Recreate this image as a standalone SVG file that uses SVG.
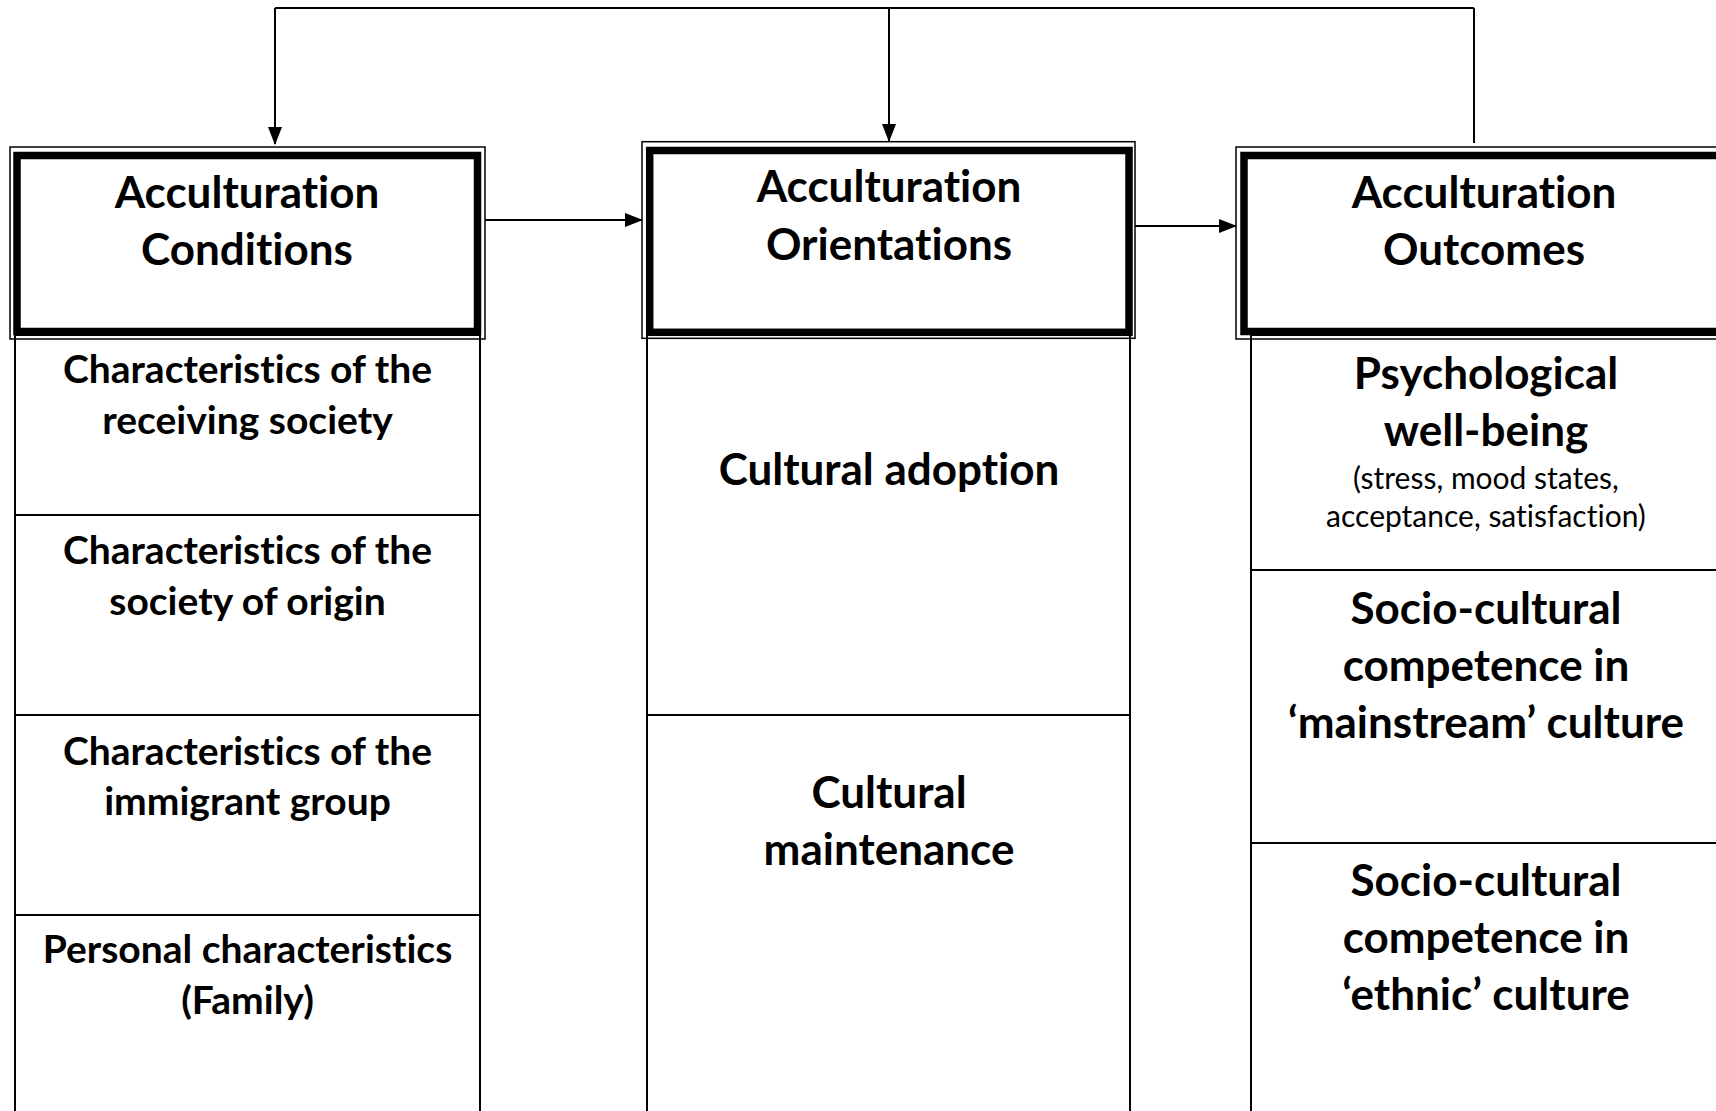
<svg xmlns="http://www.w3.org/2000/svg" width="1716" height="1111" viewBox="0 0 1716 1111">
  <style>
    .frame { fill: none; stroke: #000; stroke-width: 1.5; }
    .thick { fill: #fff; stroke: #000; stroke-width: 7.5; }
    .col { fill: #fff; stroke: #000; stroke-width: 2; }
    .div { stroke: #000; stroke-width: 2; }
    .link { fill: none; stroke: #000; stroke-width: 2; }
    text { font-family: Lato, "Liberation Sans", sans-serif; text-anchor: middle; fill: #000; font-variant-ligatures: none; font-feature-settings: "liga" 0, "clig" 0; }
    .h { font-weight: 700; font-size: 44px; }
    .m { font-weight: 700; font-size: 39px; }
    .s { font-weight: 400; font-size: 30px; }
  </style>
  <defs>
    <marker id="arrow" markerUnits="userSpaceOnUse" markerWidth="18" markerHeight="14" refX="17" refY="7" orient="auto">
      <path d="M0,0 L18,7 L0,14 Z" fill="#000"/>
    </marker>
  </defs>
  <rect width="1716" height="1111" fill="#fff"/>

  <!-- Acculturation Conditions -->
  <g id="conditions">
    <rect class="col" x="15" y="335" width="465" height="800"/>
    <line class="div" x1="15" y1="515" x2="480" y2="515"/>
    <line class="div" x1="15" y1="715" x2="480" y2="715"/>
    <line class="div" x1="15" y1="915" x2="480" y2="915"/>
    <rect class="frame" x="10" y="147" width="475" height="192"/>
    <rect class="thick" x="17" y="155.5" width="460.5" height="176"/>
    <text class="h" x="247" y="208">Acculturation</text>
    <text class="h" x="247" y="265">Conditions</text>
    <text class="m" x="247.5" y="383">Characteristics of the</text>
    <text class="m" x="247.5" y="434">receiving society</text>
    <text class="m" x="247.5" y="564">Characteristics of the</text>
    <text class="m" x="247.5" y="615">society of origin</text>
    <text class="m" x="247.5" y="765">Characteristics of the</text>
    <text class="m" x="247.5" y="815">immigrant group</text>
    <text class="m" x="247.5" y="963">Personal characteristics</text>
    <text class="m" x="247.5" y="1014">(Family)</text>
  </g>

  <!-- Acculturation Orientations -->
  <g id="orientations">
    <rect class="col" x="647" y="335" width="483" height="800"/>
    <line class="div" x1="647" y1="715" x2="1130" y2="715"/>
    <rect class="frame" x="642" y="141.7" width="493" height="196.6"/>
    <rect class="thick" x="649.7" y="150.5" width="479.3" height="181.8"/>
    <text class="h" x="889" y="202">Acculturation</text>
    <text class="h" x="889" y="260">Orientations</text>
    <text class="h" x="889" y="485">Cultural adoption</text>
    <text class="h" x="889" y="808">Cultural</text>
    <text class="h" x="889" y="865">maintenance</text>
  </g>

  <!-- Acculturation Outcomes -->
  <g id="outcomes">
    <rect class="col" x="1251" y="335" width="600" height="800"/>
    <line class="div" x1="1251" y1="570" x2="1716" y2="570"/>
    <line class="div" x1="1251" y1="843" x2="1716" y2="843"/>
    <rect class="frame" x="1236" y="147" width="600" height="192"/>
    <rect class="thick" x="1244" y="155.5" width="600" height="176"/>
    <text class="h" x="1484" y="208">Acculturation</text>
    <text class="h" x="1484" y="265">Outcomes</text>
    <text class="h" x="1486" y="389">Psychological</text>
    <text class="h" x="1486" y="446">well-being</text>
    <text class="s" x="1486" y="489">(stress, mood states,</text>
    <text class="s" x="1486" y="527">acceptance, satisfaction)</text>
    <text class="h" x="1486" y="624">Socio-cultural</text>
    <text class="h" x="1486" y="681">competence in</text>
    <text class="h" x="1486" y="738">‘mainstream’ culture</text>
    <text class="h" x="1486" y="896">Socio-cultural</text>
    <text class="h" x="1486" y="953">competence in</text>
    <text class="h" x="1486" y="1010">‘ethnic’ culture</text>
  </g>

  <!-- Connectors -->
  <g id="connectors">
    <path class="link" d="M275,8 H1474"/>
    <path class="link" d="M275,8 V144" marker-end="url(#arrow)"/>
    <path class="link" d="M889,8 V141" marker-end="url(#arrow)"/>
    <path class="link" d="M1474,8 V143"/>
    <path class="link" d="M485,220 H642" marker-end="url(#arrow)"/>
    <path class="link" d="M1135,226 H1236" marker-end="url(#arrow)"/>
  </g>
</svg>
